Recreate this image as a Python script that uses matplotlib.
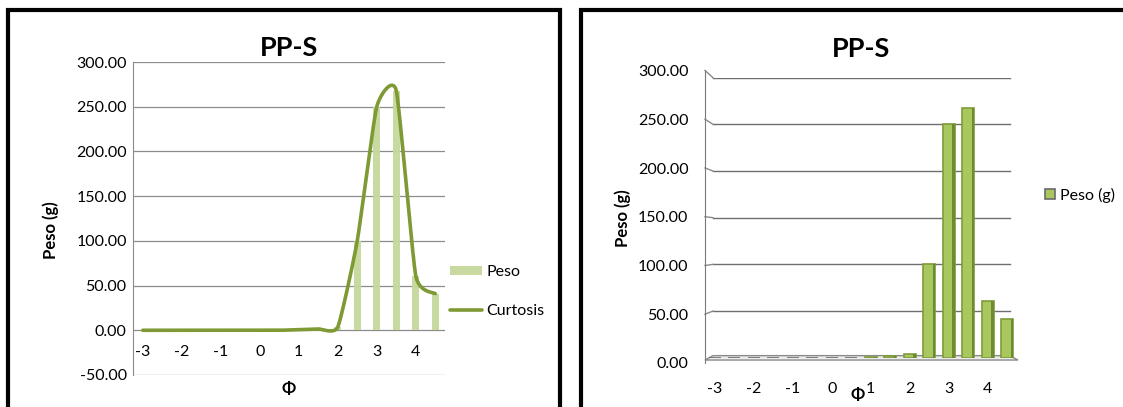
import numpy as np
import matplotlib
matplotlib.use('Agg')
import matplotlib.pyplot as plt
from matplotlib.patches import Rectangle, Polygon

plt.rcParams['font.family'] = ['Lato', 'DejaVu Sans']

# data: phi classes and weight (g)
phi = [-3, -2.5, -2, -1.5, -1, -0.5, 0, 0.5, 1, 1.5, 2, 2.5, 3, 3.5, 4, 4.5]
peso = [0, 0, 0, 0, 0, 0, 0, 0, 0.8, 1.5, 3.5, 100, 250, 268, 61, 41]
curtosis = [0, 0, 0, 0, 0, 0, 0, 0, 0.8, 1.5, 3.5, 100, 250, 268, 61, 41]
xtick_labels = ['-3', '-2', '-1', '0', '1', '2', '3', '4']
yticks_left = [-50, 0, 50, 100, 150, 200, 250, 300]
yticks_right = [0, 50, 100, 150, 200, 250, 300]

W, H = 1123, 407
FS = 11.5


def box(x0, y0, x1, y1):
    # pixel box (top-left origin) -> figure fractions
    return [x0 / W, 1 - y1 / H, (x1 - x0) / W, (y1 - y0) / H]


def smooth(x, y, t=0.085, n=40):
    # excel-like smoothed line (bezier through the points)
    P = np.column_stack([x, y]).astype(float)
    out = []
    for i in range(len(P) - 1):
        p0 = P[i - 1] if i > 0 else P[i]
        p1 = P[i]
        p2 = P[i + 1]
        p3 = P[i + 2] if i + 2 < len(P) else P[i + 1]
        c1 = p1 + (p2 - p0) * t
        c2 = p2 - (p3 - p1) * t
        s = np.linspace(0, 1, n)[:, None]
        seg = (1 - s)**3 * p1 + 3 * (1 - s)**2 * s * c1 + 3 * (1 - s) * s**2 * c2 + s**3 * p2
        out.append(seg)
    out = np.vstack(out)
    return out[:, 0], out[:, 1]


fig = plt.figure(figsize=(W / 100, H / 100), dpi=100)

# panel frames
fig.patches.append(Rectangle((7.5 / W, -0.1), (560 - 7.5) / W, 1.1 - 10.5 / H,
                             transform=fig.transFigure, fill=False, lw=3, ec='black'))
fig.patches.append(Rectangle((580.5 / W, -0.1), 0.6, 1.1 - 10.5 / H,
                             transform=fig.transFigure, fill=False, lw=3, ec='black'))

idx = np.arange(len(phi))

##################################################
# left: bars + smoothed line
##################################################
ax = fig.add_axes(box(133, 62, 445, 375))
ax.set_xlim(-0.5, len(phi) - 0.5)
ax.set_ylim(-50, 300)
b1 = ax.bar(idx, peso, width=0.36, color='#c6d89c', alpha=0.95, label='Peso', zorder=2)
sx, sy = smooth(idx, curtosis)
l1, = ax.plot(sx, sy, color='#7e9a34', lw=2.6, label='Curtosis', zorder=3,
              solid_capstyle='round')
ax.set_yticks(yticks_left)
ax.set_yticklabels(['{:.2f}'.format(v) for v in yticks_left], fontsize=FS)
ax.yaxis.grid(True, color='#8c8c8c', lw=0.9)
ax.set_axisbelow(True)
for s in ['top', 'right', 'bottom']:
    ax.spines[s].set_visible(False)
ax.spines['left'].set_color('#8c8c8c')
ax.spines['bottom'].set_position(('data', 0))
ax.set_xticks(idx[::2])
ax.set_xticklabels(xtick_labels, fontsize=FS)
ax.tick_params(axis='both', length=0)
ax.tick_params(axis='x', pad=10.5)
ax.tick_params(axis='y', pad=4.5)
ax.set_title('PP-S', fontsize=19.5, fontweight='bold', pad=4)
fig.text(51 / W, 1 - 230 / H, 'Peso (g)', rotation=90, fontsize=12, fontweight='bold',
         ha='center', va='center')
fig.text(289 / W, 1 - 389 / H, 'Φ', fontsize=12, fontweight='bold', ha='center', va='center')
ax.legend(handles=[b1, l1], loc='upper left', bbox_to_anchor=(1.016, 0.352), frameon=False,
          fontsize=FS, handlelength=2.0, handleheight=0.5, handletextpad=0.3,
          labelspacing=1.6, borderaxespad=0, borderpad=0)

##################################################
# right: 3d-like column chart
##################################################
nx = len(phi)
ax2 = fig.add_axes(box(705, 77.7, 1017, 357.7))
ax2.set_xlim(-0.5, nx - 0.5)
ax2.set_ylim(0, 300)
ax2.axis('off')
# back wall gridlines with the side-wall slant
for v in yticks_right[1:]:
    ax2.plot([-0.09, nx - 0.86], [v, v], color='#6e6e6e', lw=1.0, zorder=1)
    ax2.plot([-0.5, -0.09], [v * 1.045 - 5.7, v], color='#8a8a8a', lw=1.0, zorder=1,
             clip_on=False)
# floor
ax2.add_patch(Polygon([[-0.5, -2.5], [nx - 0.45, -2.5], [nx - 0.86, 2.2], [-0.09, 2.2]],
                      closed=True, fc='#ececec', ec='#8a8a8a', lw=1.0, zorder=2, clip_on=False))
edge = ['#6a6a6a' if v < 0.5 else '#7f9c3a' for v in peso]
ax2.bar(idx, peso, width=0.6, color='#a9c75f', ec=edge, lw=1.2, zorder=3, label='Peso (g)')
ax2.bar(idx + 0.24, peso, width=0.12, color='#6f8b32', lw=0, zorder=3)
ax2.legend(loc='center left', bbox_to_anchor=(1.07, 0.58), frameon=False, fontsize=FS,
           handlelength=0.6, handleheight=0.6, handletextpad=0.3, borderaxespad=0)

# front axis carrying the tick labels
ax3 = fig.add_axes(box(705, 70.7, 1017, 363))
ax3.set_xlim(-0.5, nx - 0.5)
ax3.set_ylim(0, 300)
ax3.patch.set_visible(False)
for s in ['top', 'right', 'bottom']:
    ax3.spines[s].set_visible(False)
ax3.spines['left'].set_color('#7a7a7a')
ax3.set_yticks(yticks_right)
ax3.set_yticklabels(['{:.2f}'.format(v) for v in yticks_right], fontsize=FS)
ax3.set_xticks(idx[::2])
ax3.set_xticklabels(xtick_labels, fontsize=FS)
ax3.tick_params(axis='both', length=0)
ax3.tick_params(axis='x', pad=14)
ax3.tick_params(axis='y', pad=12)
ax3.set_title('PP-S', fontsize=19.5, fontweight='bold', pad=10)
fig.text(623 / W, 1 - 218 / H, 'Peso (g)', rotation=90, fontsize=12, fontweight='bold',
         ha='center', va='center')
fig.text(858 / W, 1 - 395 / H, 'Φ', fontsize=12, fontweight='bold', ha='center', va='center')

fig.savefig('out.png', dpi=100)
